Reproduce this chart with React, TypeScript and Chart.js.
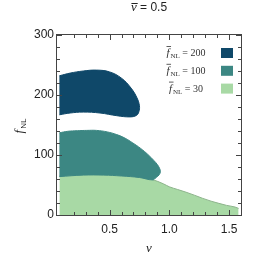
import React, { useEffect, useRef } from 'react';
import { Chart, registerables } from 'chart.js';

Chart.register(...registerables);

// ---- data ----
const nuDark = [0.08, 0.17, 0.28, 0.39, 0.5, 0.6, 0.68, 0.73, 0.75, 0.745, 0.725, 0.67, 0.56, 0.42, 0.28, 0.17, 0.08];
const fDark = [232, 236.5, 240, 241.5, 238.5, 228, 211.5, 195, 182, 172, 166, 163.5, 165.5, 170, 171.5, 170, 167];

const nuTeal = [0.08, 0.15, 0.23, 0.31, 0.39, 0.48, 0.56, 0.63, 0.695, 0.76, 0.82, 0.87, 0.9, 0.92, 0.925, 0.915, 0.89, 0.86, 0.75, 0.6, 0.45, 0.28, 0.08];
const fTeal = [137, 139.5, 140.5, 141, 141, 138.5, 134, 128, 120, 111, 101, 91, 84, 77, 72, 67, 62.5, 58.5, 62.5, 65, 66.5, 66.5, 64];

const nuGreen = [0.08, 0.2, 0.35, 0.5, 0.65, 0.75, 0.86, 0.95, 1.0, 1.07, 1.14, 1.21, 1.28, 1.35, 1.415, 1.48, 1.55, 1.58];
const fGreen = [65, 67, 67.5, 67, 65.5, 63.5, 59, 52, 47, 42.5, 38, 33, 27.7, 23, 19.4, 16, 13.3, 11];

const legendValues = ['200', '100', '30'];
const xMajorLabels = [0.5, 1.0, 1.5];
const yMajorLabels = [0, 100, 200, 300];
const titleValue = '0.5';

const COLORS = ['#0f4869', '#3c8783', '#a8d9a5'];

const SANS = '"Liberation Sans", Arial, sans-serif';
const SERIF = '"Liberation Serif", "Times New Roman", serif';

const pts = (xs: number[], ys: number[]) => xs.map((x, i) => ({ x, y: ys[i] }));

const isMultiple = (v: number, step: number) => Math.abs(v / step - Math.round(v / step)) < 1e-6;

const decor = {
  id: 'decor',
  afterDraw(chart: any) {
    const { ctx, chartArea: a, scales } = chart;
    const xs = scales.x;
    const ys = scales.y;
    ctx.save();
    // frame
    ctx.strokeStyle = '#444';
    ctx.lineWidth = 1;
    ctx.strokeRect(a.left - 0.5, a.top - 0.5, a.right - a.left + 1, a.bottom - a.top + 1);
    // inward ticks
    ctx.beginPath();
    xs.ticks.forEach((t: any) => {
      if (!isMultiple(t.value, 0.1)) return;
      const px = Math.round(xs.getPixelForValue(t.value)) + 0.5;
      if (px < a.left || px > a.right) return;
      const major = xMajorLabels.some((m) => Math.abs(m - t.value) < 1e-6);
      const len = major ? 5 : 3;
      ctx.moveTo(px, a.bottom); ctx.lineTo(px, a.bottom - len);
      ctx.moveTo(px, a.top); ctx.lineTo(px, a.top + len);
    });
    ys.ticks.forEach((t: any) => {
      const py = Math.round(ys.getPixelForValue(t.value)) + 0.5;
      const major = yMajorLabels.includes(t.value);
      const len = major ? 5 : 3;
      ctx.moveTo(a.left, py); ctx.lineTo(a.left + len, py);
      ctx.moveTo(a.right, py); ctx.lineTo(a.right - len, py);
    });
    ctx.stroke();

    ctx.fillStyle = '#222';
    ctx.textBaseline = 'alphabetic';
    // title  nu-bar = 0.5
    const cx = (a.left + a.right) / 2;
    ctx.font = `italic 13px ${SERIF}`;
    const wNu = ctx.measureText('ν').width;
    ctx.font = `12px ${SANS}`;
    const rest = ' = ' + titleValue;
    const wRest = ctx.measureText(rest).width;
    let sx = cx - (wNu + wRest) / 2;
    ctx.font = `italic 13px ${SERIF}`;
    ctx.fillText('ν', sx, 11);
    ctx.beginPath();
    ctx.moveTo(sx + 0.5, 3.5); ctx.lineTo(sx + wNu + 1, 3.5);
    ctx.strokeStyle = '#222';
    ctx.stroke();
    ctx.font = `12px ${SANS}`;
    ctx.fillText(rest, sx + wNu, 11);

    // x axis title
    ctx.font = `italic 13px ${SERIF}`;
    ctx.textAlign = 'center';
    ctx.fillText('ν', cx, 252);
    ctx.textAlign = 'left';

    // y axis title f_NL rotated
    ctx.save();
    ctx.translate(20, 126);
    ctx.rotate(-Math.PI / 2);
    ctx.font = `italic 13px ${SERIF}`;
    const wf = ctx.measureText('f').width;
    ctx.font = `8px ${SANS}`;
    const wnl = ctx.measureText('NL').width;
    const st = -(wf + wnl + 1) / 2;
    ctx.font = `italic 13px ${SERIF}`;
    ctx.fillText('f', st, 3);
    ctx.font = `8px ${SANS}`;
    ctx.fillText('NL', st + wf + 1, 6);
    ctx.restore();

    // legend
    legendValues.forEach((val, i) => {
      const by = 56 + i * 17.8;
      ctx.fillStyle = '#333';
      ctx.strokeStyle = '#333';
      ctx.font = `italic 11px ${SERIF}`;
      const w1 = ctx.measureText('f').width;
      ctx.font = `7px ${SERIF}`;
      const w2 = ctx.measureText('NL').width;
      ctx.font = `10px ${SERIF}`;
      const tail = ' = ' + val;
      const w3 = ctx.measureText(tail).width;
      const total = w1 + 1 + w2 + w3;
      let lx = 186 - total / 2;
      ctx.font = `italic 11px ${SERIF}`;
      ctx.fillText('f', lx, by);
      ctx.beginPath();
      ctx.lineWidth = 0.8;
      ctx.moveTo(lx, by - 9.5); ctx.lineTo(lx + w1 + 1.5, by - 9.5);
      ctx.stroke();
      ctx.font = `7px ${SERIF}`;
      ctx.fillText('NL', lx + w1 + 1, by + 2);
      ctx.font = `10px ${SERIF}`;
      ctx.fillText(tail, lx + w1 + 1 + w2, by);
      ctx.fillStyle = COLORS[i];
      ctx.fillRect(221, by - 8, 12, 10);
    });
    ctx.restore();
  },
};

export default function App() {
  const ref = useRef<HTMLCanvasElement | null>(null);
  useEffect(() => {
    const canvas = ref.current;
    if (!canvas) return;
    const chart = new Chart(canvas, {
      type: 'line',
      data: {
        datasets: [
          {
            data: pts(nuDark, fDark),
            borderColor: COLORS[0],
            backgroundColor: COLORS[0],
            borderWidth: 1,
            fill: 'shape',
            tension: 0.4,
            pointRadius: 0,
          },
          {
            data: pts(nuTeal, fTeal),
            borderColor: COLORS[1],
            backgroundColor: COLORS[1],
            borderWidth: 1,
            fill: 'shape',
            tension: 0.4,
            pointRadius: 0,
          },
          {
            data: pts(nuGreen, fGreen),
            borderColor: '#8db48c',
            backgroundColor: COLORS[2],
            borderWidth: 1,
            fill: 'origin',
            cubicInterpolationMode: 'monotone',
            pointRadius: 0,
          },
        ] as any,
      },
      options: {
        animation: false,
        responsive: false,
        maintainAspectRatio: false,
        layout: { padding: { top: 35, right: 15, left: 0, bottom: 0 } },
        plugins: { legend: { display: false }, title: { display: false }, tooltip: { enabled: false } },
        scales: {
          x: {
            type: 'linear',
            min: 0.06,
            max: 1.6,
            grid: { display: false, drawTicks: false },
            border: { display: false },
            afterFit: (s: any) => { s.height = 41; },
            ticks: {
              stepSize: 0.1,
              autoSkip: false,
              maxRotation: 0,
              padding: 7,
              color: '#222',
              font: { family: SANS, size: 12 },
              callback: (v: any) => {
                const n = Number(v);
                const hit = xMajorLabels.find((m) => Math.abs(m - n) < 1e-6);
                return hit !== undefined ? hit.toFixed(1) : '';
              },
            },
          },
          y: {
            type: 'linear',
            min: 0,
            max: 300,
            grid: { display: false, drawTicks: false },
            border: { display: false },
            afterFit: (s: any) => { s.width = 57; },
            ticks: {
              stepSize: 20,
              autoSkip: false,
              padding: 3,
              color: '#222',
              font: { family: SANS, size: 12 },
              callback: (v: any) => (yMajorLabels.includes(Number(v)) ? String(v) : ''),
            },
          },
        },
      },
      plugins: [decor],
    });
    return () => chart.destroy();
  }, []);
  return (
    <div style={{ position: 'absolute', left: 0, top: 0, width: 256, height: 256, background: '#fff' }}>
      <canvas ref={ref} width={256} height={256} style={{ display: 'block', width: 256, height: 256 }} />
    </div>
  );
}
